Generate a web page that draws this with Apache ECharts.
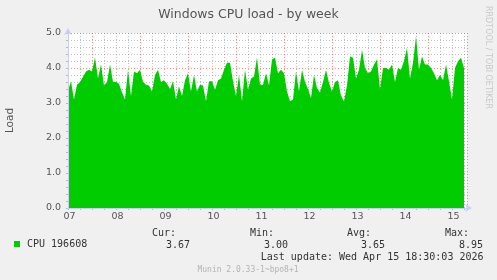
<!DOCTYPE html>
<html><head><meta charset="utf-8">
<script src="https://cdn.jsdelivr.net/npm/echarts@6/dist/echarts.min.js"></script>
<style>html,body{margin:0;padding:0;background:#f0f0f0}#c{width:497px;height:280px}</style>
</head><body><div id="c"></div>
<script>
const titleText = 'Windows CPU load - by week';
const dayLabels = ['07','08','09','10','11','12','13','14','15'];
const yTicks = [0, 1, 2, 3, 4, 5];
const stepHours = 1.5;
const cpuLoad = [
 3.35,3.62,3.1,3.52,3.6,3.75,3.9,3.95,3.9,4.3,3.7,4.1,3.5,3.6,4.1,3.6,3.6,3.55,3.3,3.1,
 3.95,3.2,3.9,3.85,3.95,3.6,3.52,3.5,3.33,3.8,3.95,3.6,3.65,3.55,3.4,3.62,3.1,3.48,3.2,3.65,
 3.85,3.33,3.8,3.33,3.52,3.5,3.05,3.62,3.62,3.38,3.65,3.7,3.95,4.15,4.15,3.62,3.2,3.8,3.05,3.95,
 3.38,3.7,3.76,4.3,
 3.52,3.52,3.85,3.5,4.24,4.3,3.85,3.95,3.85,3.33,3.05,3.1,3.9,3.33,3.95,3.6,3.4,3.14,3.8,3.43,
 3.3,3.6,3.95,3.57,3.33,3.6,3.65,3.2,3.05,3.5,4.33,4.29,3.7,3.95,4.52,4.0,3.85,3.9,4.1,4.24,
 3.4,4.0,4.0,3.95,4.1,3.6,4.0,3.95,4.2,4.57,3.7,4.15,4.9,3.95,4.33,4.1,4.1,4.0,3.85,3.65,
 3.8,3.65,4.1,3.62,3.1,4.0,4.19,4.29,4.0
];
const seriesName = 'CPU 196608';
const statLabels = ['Cur:', 'Min:', 'Avg:', 'Max:'];
const statValues = ['3.67', '3.00', '3.65', '8.95'];
const lastUpdate = 'Last update: Wed Apr 15 18:30:03 2026';
const footerText = 'Munin 2.0.33-1~bpo8+1';
const sideText = 'RRDTOOL / TOBI OETIKER';

const GRAY = 'rgba(128,128,128,0.5)';
const RED = 'rgba(255,0,0,0.45)';
const AXIS = '#c8d0f0';
const MONO = '"DejaVu Sans Mono", monospace';
const SANS = '"DejaVu Sans", sans-serif';

const chart = echarts.init(document.getElementById('c'), null, {renderer: 'canvas'});
const statLabelX = [176, 274, 371, 469];
const statValueX = [190, 288, 385, 483];
const graphics = [];
statLabels.forEach((t, i) => graphics.push({type: 'text', x: statLabelX[i], y: 233.7,
  style: {text: t, font: '10px ' + MONO, fill: '#333', textAlign: 'right', textVerticalAlign: 'middle'}}));
statValues.forEach((t, i) => graphics.push({type: 'text', x: statValueX[i], y: 245,
  style: {text: t, font: '10px ' + MONO, fill: '#333', textAlign: 'right', textVerticalAlign: 'middle'}}));
graphics.push({type: 'text', x: 483.5, y: 257.5,
  style: {text: lastUpdate, font: '10px ' + MONO, fill: '#333', textAlign: 'right', textVerticalAlign: 'middle'}});
graphics.push({type: 'text', x: 248, y: 269.5,
  style: {text: footerText, font: '8px ' + MONO, fill: '#b4b4b4', textAlign: 'center', textVerticalAlign: 'middle'}});
graphics.push({type: 'text', x: 488.5, y: 6, rotation: -Math.PI / 2,
  style: {text: sideText, font: '8px ' + SANS, fill: '#c8c8c8', textAlign: 'left', textVerticalAlign: 'middle'}});

const xBase = {type: 'value', min: 0, max: 199.5, interval: 6};
const yBase = {type: 'value', min: 0, max: 5, interval: 0.2};
chart.setOption({
  backgroundColor: '#f0f0f0',
  animation: false,
  title: {text: titleText, left: 'center', top: 3,
    textStyle: {fontFamily: SANS, fontSize: 12.5, fontWeight: 'normal', color: '#555'}},
  legend: {data: [seriesName], left: 9, top: 234, icon: 'rect', itemWidth: 6, itemHeight: 6,
    textStyle: {fontFamily: MONO, fontSize: 10, color: '#333', padding: [0, 0, 0, 2]}},
  grid: {left: 68, top: 33, width: 399, height: 175, show: true, backgroundColor: '#fff', borderWidth: 0,
    containLabel: false, outerBoundsMode: 'none'},
  xAxis: [
    Object.assign({}, xBase, {z: 0,
      axisLine: {show: false}, axisTick: {show: true, length: 2, lineStyle: {color: GRAY}},
      axisLabel: {margin: 4, fontFamily: SANS, fontSize: 9.5, color: '#555', padding: [0, 0, 0, 3],
        formatter: v => (v % 24 === 0 && dayLabels[v / 24] !== undefined) ? dayLabels[v / 24] : ''},
      splitLine: {show: true, lineStyle: {color: [GRAY, GRAY, RED, GRAY], type: [1, 2], width: 1}}}),
    Object.assign({}, xBase, {z: 4, position: 'bottom',
      axisLine: {show: true, onZero: false, lineStyle: {color: AXIS, width: 1}, symbol: ['none', 'arrow'], symbolSize: [6, 7], symbolOffset: [0, 5]},
      axisTick: {show: false}, axisLabel: {show: false}, splitLine: {show: false}})
  ],
  yAxis: [
    Object.assign({}, yBase, {z: 0,
      name: 'Load', nameLocation: 'middle', nameRotate: 90, nameGap: 52,
      nameTextStyle: {fontFamily: SANS, fontSize: 10.5, color: '#555'},
      axisLine: {show: false}, axisTick: {show: true, length: 2, lineStyle: {color: GRAY}},
      axisLabel: {margin: 7, fontFamily: SANS, fontSize: 9.5, color: '#555',
        formatter: v => { const r = Math.round(v * 10) / 10; return yTicks.includes(r) ? r.toFixed(1) : ''; }},
      splitLine: {show: true, lineStyle: {color: [RED, GRAY, GRAY, GRAY, GRAY], type: [1, 2], width: 1}}}),
    Object.assign({}, yBase, {z: 4, position: 'left',
      axisLine: {show: true, onZero: false, lineStyle: {color: AXIS, width: 1}, symbol: ['none', 'arrow'], symbolSize: [6, 7], symbolOffset: [0, 5]},
      axisTick: {show: false}, axisLabel: {show: false}, splitLine: {show: false}})
  ],
  series: [{
    name: seriesName, type: 'line', symbol: 'none', z: 2, xAxisIndex: 0, yAxisIndex: 0,
    color: '#00cc00', lineStyle: {width: 0}, areaStyle: {color: '#00cc00', opacity: 1},
    data: cpuLoad.map((v, i) => [i * stepHours, v])
  }],
  graphic: graphics
});
</script></body></html>
